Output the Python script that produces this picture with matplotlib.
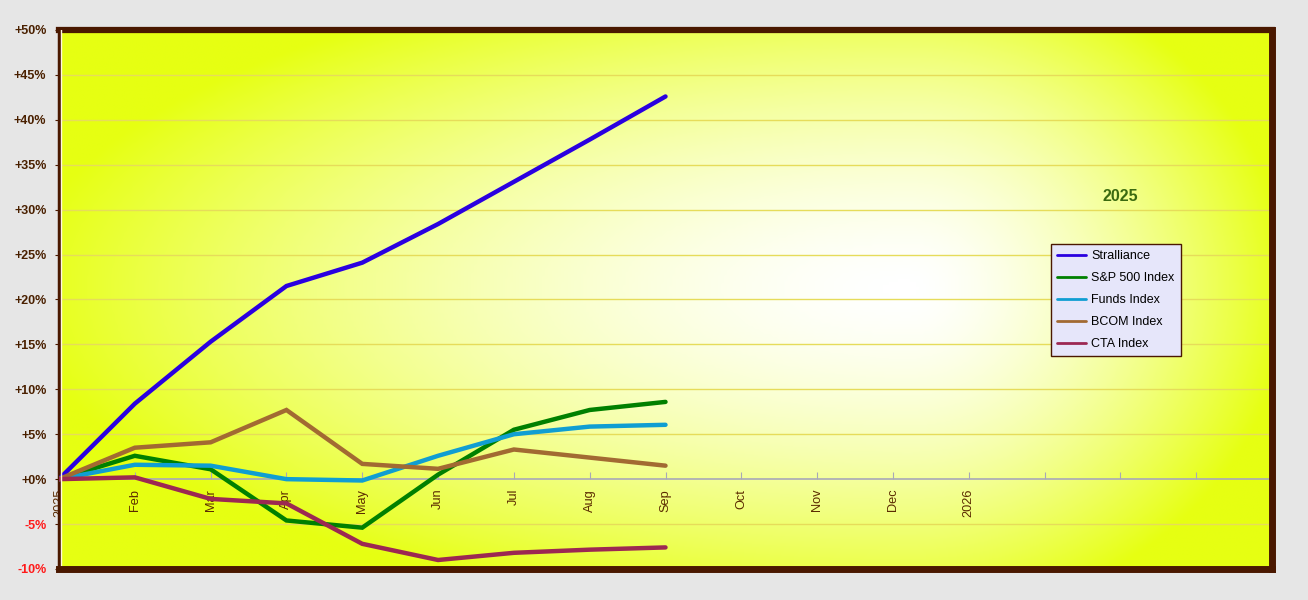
import matplotlib

matplotlib.use("Agg")
import matplotlib.pyplot as plt
import numpy as np
from matplotlib.colors import LinearSegmentedColormap

plt.rcParams["font.family"] = ["Liberation Sans", "DejaVu Sans"]

# x positions: month index from Jan 2025 (0) to Jan 2027 (16 slots)
tick_labels = ["2025", "Feb", "Mar", "Apr", "May", "Jun", "Jul", "Aug",
               "Sep", "Oct", "Nov", "Dec", "2026", "", "", "", ""]
months = list(range(9))  # 2025 .. Sep

stralliance = [0.0, 8.4, 15.3, 21.5, 24.1, 28.4, 33.1, 37.8, 42.6]
sp500 = [0.0, 2.6, 1.1, -4.6, -5.4, 0.5, 5.5, 7.7, 8.6]
funds = [0.0, 1.6, 1.5, 0.0, -0.15, 2.6, 5.0, 5.85, 6.05]
bcom = [0.0, 3.5, 4.1, 7.7, 1.7, 1.15, 3.3, 2.4, 1.5]
cta = [0.0, 0.2, -2.2, -2.7, -7.2, -9.0, -8.2, -7.85, -7.6]

series = [
    ("Stralliance", stralliance, "#2a00e0"),
    ("S&P 500 Index", sp500, "#008000"),
    ("Funds Index", funds, "#109ed2"),
    ("BCOM Index", bcom, "#a26a32"),
    ("CTA Index", cta, "#9c2852"),
]

y_ticks = list(range(-10, 51, 5))
BROWN = "#4a1800"

fig = plt.figure(figsize=(13.08, 6.0), dpi=100, facecolor="#e6e6e6")
ax = fig.add_axes([0.0451, 0.0517, 0.9274, 0.8983])

# background: light centre fading to yellow at the edges
gx, gy = np.meshgrid(np.linspace(0, 1, 400), np.linspace(0, 1, 200))
cx, cy = 0.70, 0.52
rx = np.where(gx < cx, cx, 1 - cx) * 1.05
d = np.sqrt(((gx - cx) / rx) ** 2 + ((gy - cy) / 0.62) ** 2)
t = np.clip(d, 0, 1) ** 1.6
bg = LinearSegmentedColormap.from_list("bg", ["#ffffff", "#e6ff12"])
ax.imshow(t, cmap=bg, vmin=0, vmax=1, extent=(0, 1, 0, 1), origin="lower",
          transform=ax.transAxes, aspect="auto", zorder=0, interpolation="bilinear")

ax.set_xlim(0, 16)
ax.set_ylim(-10, 50)

for y in y_ticks:
    if y not in (-10, 0, 50):
        ax.axhline(y, color="#e6dc5a", lw=1.0, zorder=1)

for name, vals, col in series:
    ax.plot(months, vals, color=col, lw=3.2, label=name, zorder=3,
            solid_joinstyle="miter", solid_capstyle="round")

# x axis sits on the zero line
ax.spines["bottom"].set_position(("data", 0))
ax.spines["bottom"].set_color("#a8a8b8")
ax.spines["bottom"].set_linewidth(1.2)
ax.spines["bottom"].set_zorder(2)
ax.set_xticks(range(len(tick_labels)))
ax.set_xticklabels(tick_labels, rotation=90, fontsize=9.2, color="#5a2a00",
                   va="top", ha="center")
ax.tick_params(axis="x", direction="in", length=5, color="#a8a8b8", pad=7)

ax.set_yticks(y_ticks)
ax.set_yticklabels([f"{v:+d}%" if v != 0 else "+0%" for v in y_ticks],
                   fontsize=9, fontweight="bold")
for lab, v in zip(ax.get_yticklabels(), y_ticks):
    lab.set_color("#ff1a1a" if v < 0 else "#4a2000")
ax.tick_params(axis="y", direction="out", length=3, color=BROWN, pad=6)

for side, lw in (("top", 4.5), ("right", 5), ("left", 2.5)):
    ax.spines[side].set_color(BROWN)
    ax.spines[side].set_linewidth(lw)
ax.plot([0, 1], [0, 0], transform=ax.transAxes, color=BROWN, lw=5,
        clip_on=False, zorder=5, solid_capstyle="projecting")
# thin light inner edge next to the left border
ax.plot([0.0016, 0.0016], [0, 1], transform=ax.transAxes, color="#fff6e0",
        lw=1.0, zorder=4)

ax.text(0.875, 0.692, "2025", transform=ax.transAxes, fontsize=11.5,
        fontweight="bold", color="#3a6a10", ha="center", va="center")

leg = ax.legend(loc="upper left", bbox_to_anchor=(0.8178, 0.603), fontsize=9.0,
                frameon=True, fancybox=False, framealpha=1, handlelength=2.3,
                labelspacing=0.8, borderpad=0.5, handletextpad=0.4,
                borderaxespad=0)
leg.get_frame().set_facecolor("#e6e6fa")
leg.get_frame().set_edgecolor(BROWN)
leg.get_frame().set_linewidth(1.0)
for h in leg.get_lines():
    h.set_linewidth(2)

fig.savefig("out.png", dpi=100, facecolor=fig.get_facecolor())
